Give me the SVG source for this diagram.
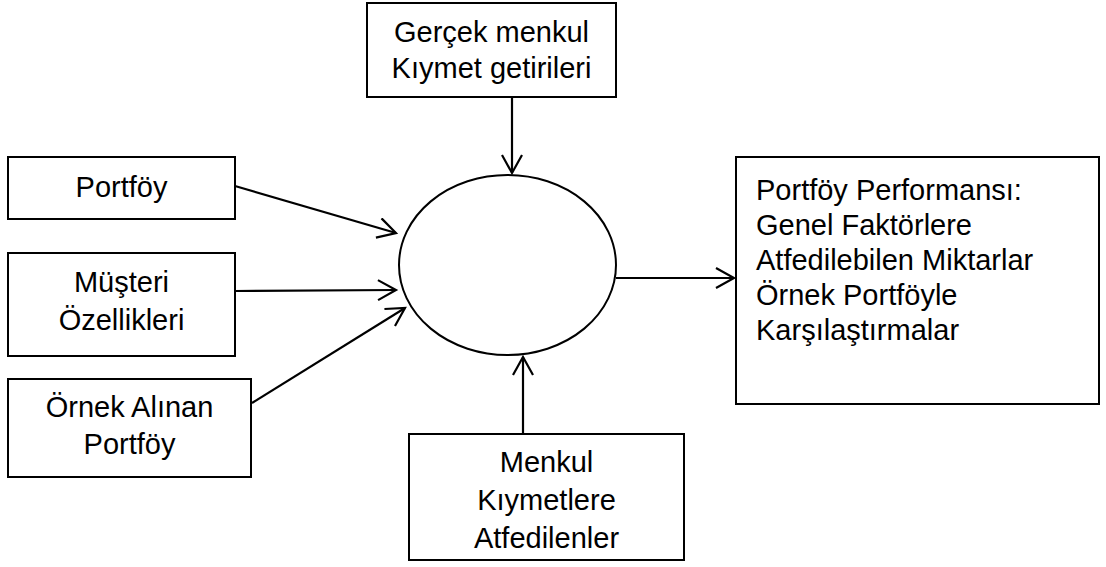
<svg xmlns="http://www.w3.org/2000/svg" width="1106" height="567" viewBox="0 0 1106 567">
<style>
.box{fill:#fff;stroke:#000;stroke-width:2}
.t{font-family:"Liberation Sans",Arial,sans-serif;font-size:29px;fill:#000}
.c{text-anchor:middle}
.conn{stroke:#000;stroke-width:2.2;fill:none;marker-end:url(#arr)}
</style>
<defs>
<marker id="arr" markerUnits="userSpaceOnUse" markerWidth="24" markerHeight="24" refX="19" refY="11" orient="auto">
<path d="M1,1 L19,11 L1,21" fill="none" stroke="#000" stroke-width="2.2"/>
</marker>
</defs>
<rect width="1106" height="567" fill="#fff"/>
<g id="connectors">
<line class="conn" x1="512" y1="97" x2="512" y2="173"/>
<line class="conn" x1="235" y1="186" x2="396" y2="233"/>
<line class="conn" x1="235" y1="291" x2="396" y2="290"/>
<line class="conn" x1="252" y1="403" x2="405" y2="308"/>
<line class="conn" x1="523" y1="434" x2="523" y2="357"/>
<line class="conn" x1="616" y1="278" x2="734" y2="278"/>
</g>
<g id="center">
<ellipse cx="507.5" cy="265" rx="108.5" ry="90" fill="none" stroke="#000" stroke-width="2"/>
</g>
<g id="gercek">
<rect class="box" x="367" y="3" width="249" height="94"/>
<text class="t c" x="491.5" y="42">Gerçek menkul</text>
<text class="t c" x="491.5" y="78">Kıymet getirileri</text>
</g>
<g id="portfoy">
<rect class="box" x="8" y="157" width="227" height="62"/>
<text class="t c" x="121.5" y="197">Portföy</text>
</g>
<g id="musteri">
<rect class="box" x="8" y="253" width="227" height="103"/>
<text class="t c" x="121.5" y="292">Müşteri</text>
<text class="t c" x="121.5" y="330">Özellikleri</text>
</g>
<g id="ornek">
<rect class="box" x="8" y="379" width="243" height="98"/>
<text class="t c" x="129.5" y="417">Örnek Alınan</text>
<text class="t c" x="129.5" y="454">Portföy</text>
</g>
<g id="menkul">
<rect class="box" x="409" y="434" width="275" height="126"/>
<text class="t c" x="546.5" y="472">Menkul</text>
<text class="t c" x="546.5" y="510">Kıymetlere</text>
<text class="t c" x="546.5" y="548">Atfedilenler</text>
</g>
<g id="performans">
<rect class="box" x="736" y="157" width="363" height="247"/>
<text class="t" x="756" y="200">Portföy Performansı:</text>
<text class="t" x="756" y="235">Genel Faktörlere</text>
<text class="t" x="756" y="270">Atfedilebilen Miktarlar</text>
<text class="t" x="756" y="305">Örnek Portföyle</text>
<text class="t" x="756" y="340">Karşılaştırmalar</text>
</g>
</svg>
